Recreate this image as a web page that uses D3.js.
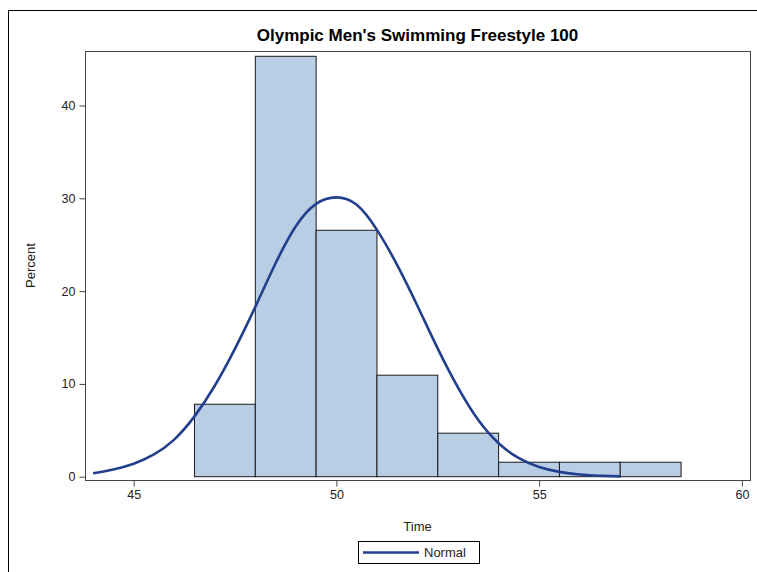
<!DOCTYPE html>
<html>
<head>
<meta charset="utf-8">
<script src="https://cdn.jsdelivr.net/npm/d3@7"></script>
<style>
  body { margin: 0; background: #fff; }
  svg { display: block; font-family: Arial, "Liberation Sans", sans-serif; }
</style>
</head>
<body>
<div id="chart"></div>
<script>
// histogram bins (left edge of each bin, width 1.5 s) and percent of swimmers
var binStarts = [46.5, 48, 49.5, 51, 52.5, 54, 55.5, 57];
var binWidth = 1.5;
var percents = [7.81, 45.31, 26.56, 10.94, 4.69, 1.56, 1.56, 1.56];

// fitted normal curve
var curveX = [44.0, 44.5, 45.0, 45.5, 46.0, 46.5, 47.0, 47.5, 48.0, 48.5, 49.0, 49.5, 50.0,
              50.5, 51.0, 51.5, 52.0, 52.5, 53.0, 53.5, 54.0, 54.5, 55.0, 55.5, 56.0, 56.5, 57.0];
var curveY = [0.37, 0.78, 1.4, 2.4, 4.0, 6.5, 9.8, 13.8, 18.3, 23.0, 27.0, 29.4, 30.1,
              29.3, 26.6, 22.8, 18.4, 13.8, 9.6, 6.1, 3.6, 2.0, 1.05, 0.52, 0.23, 0.1, 0.03];

var xTicks = [45, 50, 55, 60];
var yTicks = [0, 10, 20, 30, 40];

var w = 757, h = 572;
// plot frame edges
var frameL = 85, frameR = 750, frameT = 51, frameB = 480;

var svg = d3.select("#chart").append("svg")
  .attr("width", w)
  .attr("height", h);

// outer border (left + top only visible)
svg.append("path")
  .attr("d", "M8.5," + h + "V10.5H" + w)
  .attr("fill", "none")
  .attr("stroke", "#000")
  .attr("stroke-width", 1);

var x = d3.scaleLinear()
  .domain([43.8, 60.2])
  .range([frameL, frameR]);

var y = d3.scaleLinear()
  .domain([0, 45.88])
  .range([476.7, frameT]);

// bars
svg.append("g").selectAll("rect")
  .data(percents)
  .enter().append("rect")
  .attr("x", function(d, i) { return x(binStarts[i]); })
  .attr("y", function(d) { return y(d); })
  .attr("width", function(d, i) { return x(binStarts[i] + binWidth) - x(binStarts[i]); })
  .attr("height", function(d) { return y(0) - y(d); })
  .attr("fill", "#b9cde5")
  .attr("stroke", "#1a1a1a")
  .attr("stroke-width", 1);

// normal curve
var line = d3.line()
  .x(function(d, i) { return x(curveX[i]); })
  .y(function(d) { return y(d); })
  .curve(d3.curveNatural);

svg.append("path")
  .datum(curveY)
  .attr("fill", "none")
  .attr("stroke", "#213f8c")
  .attr("stroke-width", 2.6)
  .attr("d", line);

// plot frame
svg.append("rect")
  .attr("x", frameL + 0.5)
  .attr("y", frameT + 0.5)
  .attr("width", frameR - frameL)
  .attr("height", frameB - frameT)
  .attr("fill", "none")
  .attr("stroke", "#444")
  .attr("stroke-width", 1);

// axes
var xAxis = d3.axisBottom(x).tickValues(xTicks).tickSize(6).tickPadding(4);
var gx = svg.append("g")
  .attr("transform", "translate(0," + (frameB + 0.5) + ")")
  .call(xAxis);
gx.select(".domain").remove();
gx.selectAll(".tick line").attr("stroke", "#444");
gx.selectAll(".tick text").attr("font-size", 12.5).attr("fill", "#222").attr("font-family", "Arial, 'Liberation Sans', sans-serif");

var yAxis = d3.axisLeft(y).tickValues(yTicks).tickSize(6).tickPadding(4);
var gy = svg.append("g")
  .attr("transform", "translate(" + (frameL + 0.5) + ",0)")
  .call(yAxis);
gy.select(".domain").remove();
gy.selectAll(".tick line").attr("stroke", "#444");
gy.selectAll(".tick text").attr("font-size", 12.5).attr("fill", "#222").attr("font-family", "Arial, 'Liberation Sans', sans-serif");

// title and axis labels
svg.append("text")
  .attr("x", (frameL + frameR) / 2)
  .attr("y", 41)
  .attr("text-anchor", "middle")
  .attr("font-size", 17)
  .attr("font-weight", "bold")
  .attr("fill", "#000")
  .text("Olympic Men's Swimming Freestyle 100");

svg.append("text")
  .attr("x", (frameL + frameR) / 2)
  .attr("y", 531)
  .attr("text-anchor", "middle")
  .attr("font-size", 13)
  .attr("fill", "#222")
  .text("Time");

svg.append("text")
  .attr("transform", "translate(35," + ((frameT + frameB) / 2) + ") rotate(-90)")
  .attr("text-anchor", "middle")
  .attr("font-size", 13)
  .attr("fill", "#222")
  .text("Percent");

// legend
var legend = svg.append("g").attr("transform", "translate(358,541)");
legend.append("rect")
  .attr("x", 0.5).attr("y", 0.5)
  .attr("width", 121).attr("height", 22)
  .attr("fill", "#fff")
  .attr("stroke", "#000");
legend.append("line")
  .attr("x1", 5).attr("x2", 61)
  .attr("y1", 11.5).attr("y2", 11.5)
  .attr("stroke", "#213f8c")
  .attr("stroke-width", 2.6);
legend.append("text")
  .attr("x", 66).attr("y", 16)
  .attr("font-size", 13)
  .attr("fill", "#222")
  .text("Normal");
</script>
</body>
</html>
